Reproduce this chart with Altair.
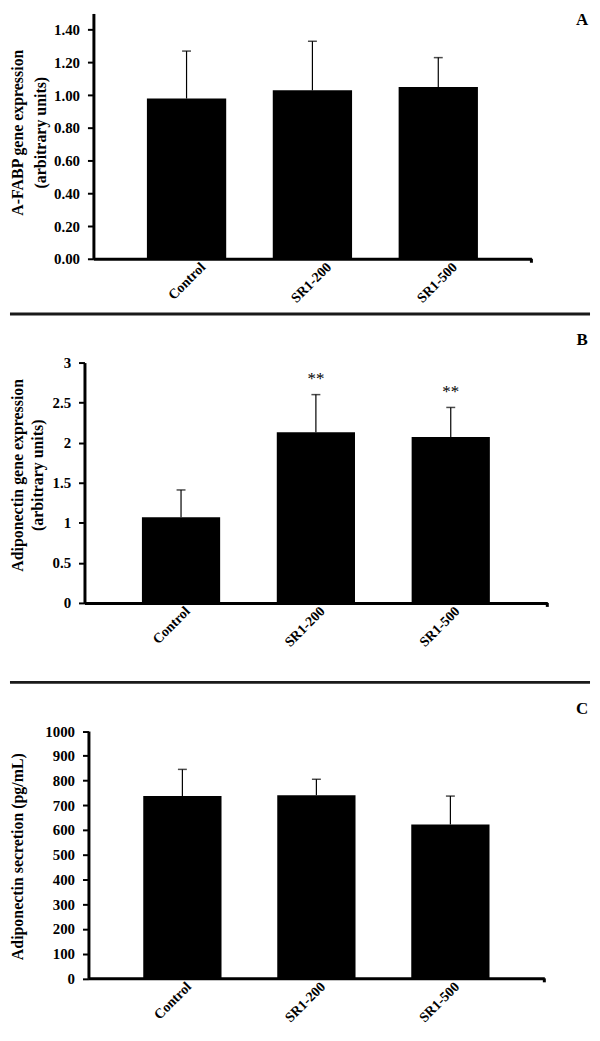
import altair as alt
import pandas as pd

categories = ["Control", "SR1-200", "SR1-500"]

a_mean = [0.98, 1.03, 1.05]
a_err = [0.29, 0.30, 0.18]
a_sig = ["", "", ""]

b_mean = [1.07, 2.13, 2.07]
b_err = [0.34, 0.47, 0.37]
b_sig = ["", "**", "**"]

c_mean = [737, 740, 622]
c_err = [108, 65, 115]
c_sig = ["", "", ""]

a_ticks = [0.0, 0.2, 0.4, 0.6, 0.8, 1.0, 1.2, 1.4]
b_ticks = [0, 0.5, 1, 1.5, 2, 2.5, 3]
c_ticks = [0, 100, 200, 300, 400, 500, 600, 700, 800, 900, 1000]

FONT = "Liberation Serif"


def panel(mean, err, sig, letter, ytitle, ydomain, yvalues, yfmt, width, height,
          xrange, yrange, pad_in, pad_out, offset, letter_y, sep_y, xlab_off,
          title_x, title_y, title_lh):
    df = pd.DataFrame({
        "cat": categories,
        "mean": mean,
        "top": [m + e for m, e in zip(mean, err)],
        "sig": sig,
    })
    xscale_kw = dict(paddingInner=pad_in, paddingOuter=pad_out)
    if xrange is not None:
        xscale_kw["range"] = xrange
    yscale_kw = dict(domain=ydomain, nice=False, zero=True)
    if yrange is not None:
        yscale_kw["range"] = yrange
    xscale = alt.Scale(**xscale_kw)
    yscale = alt.Scale(**yscale_kw)

    xaxis = alt.Axis(title=None, labelAngle=-45, labelFont=FONT,
                     labelFontWeight="bold", labelFontSize=14,
                     labelColor="black", domainColor="black",
                     domainWidth=3, ticks=False, tickSize=0, labelPadding=1,
                     labelAlign="right", labelBaseline="top",
                     labelOffset=xlab_off, labelOverlap=False)
    yaxis = alt.Axis(title=ytitle, values=yvalues, format=yfmt,
                     grid=False, offset=offset, domainColor="black",
                     domainWidth=3, tickColor="black", tickWidth=2,
                     tickSize=6, labelFont=FONT, labelFontWeight="bold",
                     labelFontSize=15, labelColor="black",
                     labelPadding=8, labelOverlap=False, tickCount=len(yvalues),
                     titleFont=FONT, titleFontWeight="bold", titleFontSize=16,
                     titleColor="black", titleLineHeight=title_lh,
                     titleAngle=270, titleBaseline="top", titleAlign="center",
                     titleX=title_x, titleY=title_y)
    x = alt.X("cat:N", sort=categories, scale=xscale, axis=xaxis)
    base = alt.Chart(df)
    bars = base.mark_bar(color="black").encode(
        x=x, y=alt.Y("mean:Q", scale=yscale, axis=yaxis))
    rule = base.mark_rule(color="black", strokeWidth=1.2).encode(
        x=x, y=alt.Y("mean:Q", scale=yscale, axis=yaxis), y2="top:Q")
    cap = base.mark_tick(color="black", size=9, thickness=1.5).encode(
        x=x, y=alt.Y("top:Q", scale=yscale, axis=yaxis))
    stars = base.mark_text(font=FONT, fontSize=17, dy=-16, color="black").encode(
        x=x, y=alt.Y("top:Q", scale=yscale, axis=yaxis), text="sig:N")
    one = pd.DataFrame({"t": [letter]})
    lab = alt.Chart(one).mark_text(font=FONT, fontSize=17, fontWeight="bold",
                                   color="black").encode(
        x=alt.value(501), y=alt.value(letter_y), text="t:N")
    xend = width if xrange is None else xrange[1]
    stub = alt.Chart(one).mark_rule(color="black", strokeWidth=3).encode(
        x=alt.value(xend), y=alt.value(height), y2=alt.value(height + 4))
    layers = [bars, rule, cap, stars, lab, stub]
    if sep_y is not None:
        sep = alt.Chart(one).mark_rule(color="#1a1a1a", strokeWidth=3).encode(
            x=alt.value(-75), x2=alt.value(509), y=alt.value(sep_y))
        layers.append(sep)
    return alt.layer(*layers).properties(width=width, height=height)


pa = panel(a_mean, a_err, a_sig, "A", ["A-FABP gene expression", "(arbitrary units)"],
           [0, 1.5], a_ticks, ".2f", 450, 247, [9, 450], None, 0.37, 0.425, -9,
           7, 302.5, 12, -84, 119.5, 23)
pb = panel(b_mean, b_err, b_sig, "B", ["Adiponectin gene expression", "(arbitrary units)"],
           [0, 3], b_ticks, "~g", 466, 242, None, None, 0.42, 0.426, 0,
           -23, 322, 2, -75, 113, 20)
pc = panel(c_mean, c_err, c_sig, "C", "Adiponectin secretion (pg/mL)",
           [0, 1000], c_ticks, "d", 463, 273.5, [4, 463], [273.5, 24.5], 0.416, 0.409, -4,
           2.5, None, 2, -79, 150.5, 20)

chart = alt.vconcat(pa, pb, pc, spacing=104.5, bounds="flush").configure(
    padding=0, background="white").configure_view(stroke=None).configure_axis(
    labelOverlap=False)

chart.save("out.html", embed_options={"renderer": "svg", "actions": False})
